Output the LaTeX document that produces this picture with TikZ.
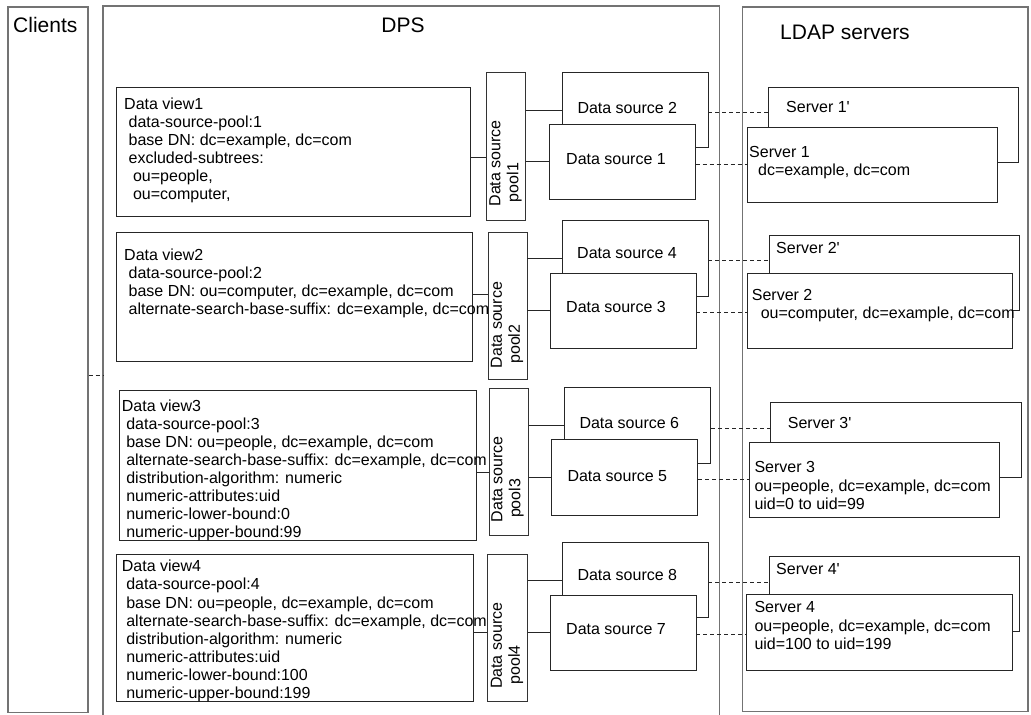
\documentclass[tikz,border=0pt]{standalone}
\usepackage{fontspec}
\setmainfont{Liberation Sans}
\newcommand\myind{\hspace*{0.278em}}
\newcommand\apos{\textquotesingle}
\begin{document}
\begin{tikzpicture}[x=1pt,y=-1pt,
  box/.style={draw=black!85, line width=0.8pt, fill=white, inner sep=0pt, rectangle},
  poolbox/.style={draw=black!80, line width=0.8pt, inner sep=0pt, rectangle},
  outer/.style={draw=black!55, line width=1.4pt},
  body/.style={font=\fontsize{16}{18.1}\selectfont, inner sep=0pt, align=left},
  title/.style={font=\fontsize{21}{24}\selectfont, inner sep=0pt},
  link/.style={draw=black!85, line width=0.8pt},
  dashlink/.style={draw=black!85, line width=0.8pt, dash pattern=on 4pt off 3pt},
]
\useasboundingbox (0,0) rectangle (1031,715);
\fill[white] (0,0) rectangle (1031,715);

% outer frames
\node[outer, inner sep=0pt, minimum width=80pt, minimum height=705.5pt] (clients) at (48,359.75) {};
\node[inner sep=0pt, minimum width=616pt, minimum height=709pt] (dps) at (411,360.5) {};
\draw[outer] (dps.south west) -- (dps.north west) -- (dps.north east) -- (dps.south east);
\node[outer, inner sep=0pt, minimum width=285.3pt, minimum height=704.7pt] (ldap) at (885.35,359.35) {};

\node[title, anchor=west] (tclients) at (13,25) {Clients};
\node[title] (tdps) at (403,25) {DPS};
\node[title] (tldap) at (845,32) {LDAP servers};

% data views
\node[box, minimum width=354.7pt, minimum height=128.3pt] (dv1) at (293.35,151.85) {};
\node[box, minimum width=356.4pt, minimum height=128.3pt] (dv2) at (294.5,296.85) {};
\node[box, minimum width=357pt, minimum height=150pt] (dv3) at (297.5,465.7) {};
\node[box, minimum width=357.4pt, minimum height=147.4pt] (dv4) at (295,628) {};

% pools
\node[poolbox, minimum width=38.6pt, minimum height=147.3pt] (p1) at (506,146.35) {};
\node[poolbox, minimum width=38.7pt, minimum height=146.6pt] (p2) at (507.65,306) {};
\node[poolbox, minimum width=39.3pt, minimum height=147.4pt] (p3) at (508.65,462) {};
\node[poolbox, minimum width=39.6pt, minimum height=147.7pt] (p4) at (507.5,627.85) {};

% data sources (back ones first)
\node[box, minimum width=146pt, minimum height=75.4pt] (ds2) at (635,110) {};
\node[box, minimum width=146pt, minimum height=75pt] (ds1) at (622.3,161.8) {};
\node[box, minimum width=146pt, minimum height=75.3pt] (ds4) at (635,258.35) {};
\node[box, minimum width=146pt, minimum height=75pt] (ds3) at (623,310.8) {};
\node[box, minimum width=146pt, minimum height=75.3pt] (ds6) at (637.7,425.35) {};
\node[box, minimum width=146pt, minimum height=75.7pt] (ds5) at (624.7,477.15) {};
\node[box, minimum width=146pt, minimum height=75.4pt] (ds8) at (635,580) {};
\node[box, minimum width=146pt, minimum height=75pt] (ds7) at (623,632.5) {};

% servers (back ones first)
\node[box, minimum width=250pt, minimum height=75pt] (s1p) at (893,124.5) {};
\node[box, minimum width=250pt, minimum height=75pt] (s1) at (872,164.5) {};
\node[box, minimum width=250pt, minimum height=75pt] (s2p) at (894,272.5) {};
\node[box, minimum width=265pt, minimum height=75pt] (s2) at (879.5,310.5) {};
\node[box, minimum width=250.7pt, minimum height=75.4pt] (s3p) at (895.65,440) {};
\node[box, minimum width=250pt, minimum height=75pt] (s3) at (874.3,480.2) {};
\node[box, minimum width=250pt, minimum height=75pt] (s4p) at (894.3,594.2) {};
\node[box, minimum width=265.6pt, minimum height=75.7pt] (s4) at (879.5,632.15) {};

% connectors: data views to pools
\coordinate (c1) at ([yshift=-5.5pt]dv1.east);
\coordinate (c2) at ([yshift=2.5pt]dv2.east);
\coordinate (c3) at ([yshift=-6.8pt]dv3.east);
\coordinate (c4) at ([yshift=-4.5pt]dv4.east);
\draw[link] (c1) -- (c1 -| p1.west);
\draw[link] (c2) -- (c2 -| p2.west);
\draw[link] (c3) -- (c3 -| p3.west);
\draw[link] (c4) -- (c4 -| p4.west);

% connectors: pools to data sources
\draw[link] (ds2.west -| p1.east) -- (ds2.west);
\draw[link] (ds1.west -| p1.east) -- (ds1.west);
\draw[link] (ds4.west -| p2.east) -- (ds4.west);
\draw[link] (ds3.west -| p2.east) -- (ds3.west);
\draw[link] (ds6.west -| p3.east) -- (ds6.west);
\draw[link] (ds5.west -| p3.east) -- (ds5.west);
\draw[link] (ds8.west -| p4.east) -- (ds8.west);
\draw[link] (ds7.west -| p4.east) -- (ds7.west);

% dashed: data sources to servers
\coordinate (e2) at ([yshift=-2.3pt]ds2.east);
\coordinate (e1) at ([yshift=-2.2pt]ds1.east);
\coordinate (e4) at ([yshift=-2pt]ds4.east);
\coordinate (e3) at ([yshift=-1.6pt]ds3.east);
\coordinate (e6) at ([yshift=-2.6pt]ds6.east);
\coordinate (e5) at ([yshift=-2.2pt]ds5.east);
\coordinate (e8) at ([yshift=-2.2pt]ds8.east);
\coordinate (e7) at ([yshift=-1.8pt]ds7.east);
\draw[dashlink] (e2) -- (e2 -| s1p.west);
\draw[dashlink] (e1) -- (e1 -| s1.west);
\draw[dashlink] (e4) -- (e4 -| s2p.west);
\draw[dashlink] (e3) -- (e3 -| s2.west);
\draw[dashlink] (e6) -- (e6 -| s3p.west);
\draw[dashlink] (e5) -- (e5 -| s3.west);
\draw[dashlink] (e8) -- (e8 -| s4p.west);
\draw[dashlink] (e7) -- (e7 -| s4.west);

% clients to DPS
\coordinate (cc) at ([yshift=-15.3pt]clients.east);
\draw[dashlink] (cc) -- (cc -| dps.west);

% texts: data views
\node[body, anchor=north west] (tdv1) at (124,97.6) {Data view1\\
\myind data-source-pool:1\\
\myind base DN: dc=example, dc=com\\
\myind excluded-subtrees:\\
\myind\myind ou=people,\\
\myind\myind ou=computer,};
\node[body, anchor=north west] (tdv2) at (124,248.3) {Data view2\\
\myind data-source-pool:2\\
\myind base DN: ou=computer, dc=example, dc=com\\
\myind alternate-search-base-suffix: dc=example, dc=com};
\node[body, anchor=north west] (tdv3) at (121.7,399.3) {Data view3\\
\myind data-source-pool:3\\
\myind base DN: ou=people, dc=example, dc=com\\
\myind alternate-search-base-suffix: dc=example, dc=com\\
\myind distribution-algorithm: numeric\\
\myind numeric-attributes:uid\\
\myind numeric-lower-bound:0\\
\myind numeric-upper-bound:99};
\node[body, anchor=north west] (tdv4) at (121.7,560) {Data view4\\
\myind data-source-pool:4\\
\myind base DN: ou=people, dc=example, dc=com\\
\myind alternate-search-base-suffix: dc=example, dc=com\\
\myind distribution-algorithm: numeric\\
\myind numeric-attributes:uid\\
\myind numeric-lower-bound:100\\
\myind numeric-upper-bound:199};

% texts: pools
\node[body, rotate=90] (tp1) at (505.5,163.4) {Data source\\ \myind pool1};
\node[body, rotate=90] (tp2) at (507,325) {Data source\\ \myind pool2};
\node[body, rotate=90] (tp3) at (507.5,479.3) {Data source\\ \myind pool3};
\node[body, rotate=90] (tp4) at (507,645.8) {Data source\\ \myind pool4};

% texts: data sources
\node[body, anchor=west] (tds2) at (577.3,107.7) {Data source 2};
\node[body, anchor=west] (tds1) at (566,159.3) {Data source 1};
\node[body, anchor=west] (tds4) at (577,252.7) {Data source 4};
\node[body, anchor=west] (tds3) at (566,307.3) {Data source 3};
\node[body, anchor=west] (tds6) at (579.3,423.3) {Data source 6};
\node[body, anchor=west] (tds5) at (567.3,475.7) {Data source 5};
\node[body, anchor=west] (tds8) at (577.3,575.3) {Data source 8};
\node[body, anchor=west] (tds7) at (566,629.3) {Data source 7};

% texts: servers
\node[body, anchor=west] (ts1p) at (786,107) {Server 1\apos};
\node[body, anchor=north west] (ts1) at (749,146.3) {Server 1\\ \myind\myind dc=example, dc=com};
\node[body, anchor=west] (ts2p) at (776,248) {Server 2\apos};
\node[body, anchor=north west] (ts2) at (751.7,289.3) {Server 2\\ \myind\myind ou=computer, dc=example, dc=com};
\node[body, anchor=west] (ts3p) at (787.7,422.7) {Server 3\apos};
\node[body, anchor=north west] (ts3) at (754.3,461.6) {Server 3\\ ou=people, dc=example, dc=com\\ uid=0 to uid=99};
\node[body, anchor=west] (ts4p) at (776,569.3) {Server 4\apos};
\node[body, anchor=north west] (ts4) at (754.3,601.6) {Server 4\\ ou=people, dc=example, dc=com\\ uid=100 to uid=199};
\end{tikzpicture}
\end{document}
